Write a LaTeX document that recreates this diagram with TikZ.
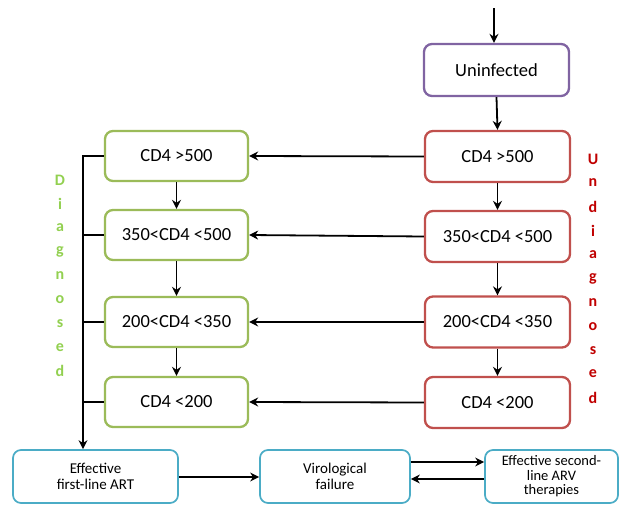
\documentclass[tikz,border=0pt]{standalone}
\usepackage{fontspec}
\setmainfont{Carlito}
\usetikzlibrary{arrows.meta}
\definecolor{grn}{HTML}{9BBB59}
\definecolor{rd}{HTML}{C0504D}
\definecolor{prp}{HTML}{8064A2}
\definecolor{teal}{HTML}{4BACC6}
\definecolor{lgrn}{HTML}{92D050}
\definecolor{drd}{HTML}{C00000}
\begin{document}
\begin{tikzpicture}[x=1pt,y=-1pt,
  box/.style={draw, line width=2.3pt, rounded corners=8pt, fill=white, align=center, inner sep=2pt, font=\fontsize{18.5}{20}\selectfont},
  gbox/.style={box, draw=grn, minimum width=143pt, minimum height=50pt},
  rbox/.style={box, draw=rd, minimum width=145pt, minimum height=51pt},
  bbox/.style={draw=teal, line width=1.7pt, rounded corners=8pt, fill=white, align=center, inner sep=1pt, minimum height=53pt, font=\fontsize{15}{15.5}\selectfont},
  arr/.style={line width=1.8pt, -{Stealth[length=9pt,width=9pt]}},
  ln/.style={line width=1.8pt},
  dg/.style={font=\fontsize{16}{16}\selectfont\bfseries, text=lgrn, inner sep=0pt},
  ud/.style={font=\fontsize{16}{16}\selectfont\bfseries, text=drd, inner sep=0pt}
]
\useasboundingbox (0,0) rectangle (622,506);

\node[box, draw=prp, minimum width=145pt, minimum height=52pt] (unin) at (496.5,70) {Uninfected};
\coordinate (top) at (494,8);

\node[rbox] (r1) at (497.5,156.5) {CD4 >500};
\node[rbox] (r2) at (497.5,236.5) {350<CD4 <500};
\node[rbox] (r3) at (497.5,322) {200<CD4 <350};
\node[rbox] (r4) at (497.5,402.5) {CD4 <200};

\node[gbox] (g1) at (176.5,156) {CD4 >500};
\node[gbox] (g2) at (176.5,235) {350<CD4 <500};
\node[gbox] (g3) at (176.5,322) {200<CD4 <350};
\node[gbox] (g4) at (176.5,402) {CD4 <200};

\node[bbox, minimum width=165pt] (b1) at (95.5,476.5) {Effective\\first-line ART};
\node[bbox, minimum width=150pt] (b2) at (335,476.5) {Virological\\failure};
\node[bbox, minimum width=133pt, font=\fontsize{14.5}{14.5}\selectfont] (b3) at (551.5,476.5) {Effective second-\\line ARV\\therapies};

\draw[arr] (top) -- (top |- unin.north);
\draw[arr] (unin.south) -- (r1.north);
\draw[arr] (r1.south) -- (r2.north);
\draw[arr] (r2.south) -- (r3.north);
\draw[arr] (r3.south) -- (r4.north);
\draw[arr] (g1.south) -- (g2.north);
\draw[arr] (g2.south) -- (g3.north);
\draw[arr] (g3.south) -- (g4.north);

\draw[arr] (r1.west) -- (g1.east);
\draw[arr] (r2.west) -- (g2.east);
\draw[arr] (r3.west) -- (g3.east);
\draw[arr] (r4.west) -- (g4.east);

\coordinate (bus) at (83,0);
\draw[arr] (g1.west) -- (bus |- g1.west) -- (bus |- b1.north);
\draw[ln] (g2.west) -- (bus |- g2.west);
\draw[ln] (g3.west) -- (bus |- g3.west);
\draw[ln] (g4.west) -- (bus |- g4.west);

\draw[arr] (b1.east |- 0,477) -- (b2.west |- 0,477);
\draw[arr] (b2.east |- 0,462) -- (b3.west |- 0,462);
\draw[arr] (b3.west |- 0,479) -- (b2.east |- 0,479);

\foreach \c [count=\i from 0] in {D,i,a,g,n,o,s,e,d}
  \node[dg] (dl\i) at (60,180+23.9*\i) {\c};
\foreach \c [count=\i from 0] in {U,n,d,i,a,g,n,o,s,e,d}
  \node[ud] (ul\i) at (593,159+23.9*\i) {\c};
\end{tikzpicture}
\end{document}
